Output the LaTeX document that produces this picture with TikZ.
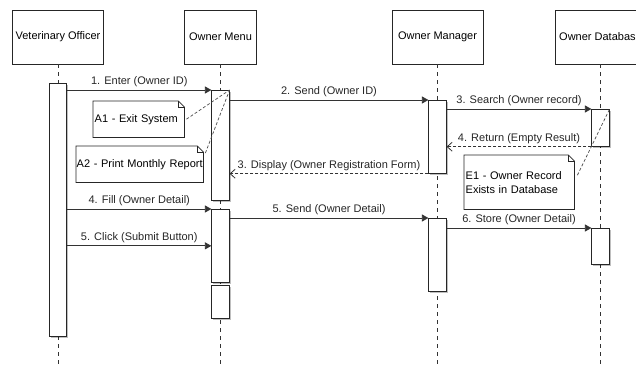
\documentclass[tikz,border=0pt]{standalone}
\usepackage{fontspec}
\setmainfont{Liberation Sans}
\usepackage{tikz}
\usetikzlibrary{arrows.meta,shadows}

\tikzset{
  head/.style={draw=black!85,line width=0.7pt,minimum width=91pt,minimum height=54pt,inner sep=0pt},
  bar/.style={draw=black!85,fill=white,line width=0.7pt,minimum width=17.5pt,inner sep=0pt,anchor=north,
    drop shadow={shadow xshift=1.5pt,shadow yshift=-1.5pt,opacity=0.25,fill=black}},
  life/.style={black!80,line width=0.7pt,dash pattern=on 4pt off 4pt},
  msg/.style={black!80,line width=0.8pt,-{Triangle[length=6.5pt,width=7pt]}},
  ret/.style={black!80,line width=0.8pt,dash pattern=on 3pt off 2pt,-{Straight Barb[length=5pt,width=9pt]}},
  lbl/.style={above,inner sep=3pt,text=black!85},
  note/.style={fill=white,inner xsep=1.5pt,inner ysep=0pt,anchor=north west,align=left},
  notefold/.style={black!85,line width=0.7pt},
  notelink/.style={black!70,line width=0.7pt,dash pattern=on 3pt off 2pt}
}

\begin{document}
\begin{tikzpicture}[x=1pt,y=-1pt,font=\fontsize{11}{14}\selectfont]

  \useasboundingbox (0,0) rectangle (636,364);
  \clip (0,0) rectangle (636,364);

  % Lifeline heads
  \node[head] (vo) at (58,37) {Veterinary Officer};
  \node[head,minimum width=72pt] (om) at (220.5,37) {Owner Menu};
  \node[head] (mg) at (437.5,37) {Owner Manager};
  \node[head,minimum width=90pt] (db) at (600.5,37) {Owner Database};

  % Lifelines
  \foreach \h in {vo,om,mg,db} {
    \coordinate (\h end) at (\h.south |- 0,366);
    \draw[life] (\h.south) -- (\h end);
  }

  % Activation bars
  \node[bar,minimum height=253pt] (vob) at (58,83) {};
  \node[bar,minimum height=110pt] (omb1) at (220.5,90) {};
  \node[bar,minimum height=73pt] (omb2) at (220.5,209) {};
  \node[bar,minimum height=33pt] (omb3) at (220.5,285) {};
  \node[bar,minimum height=73pt] (mgb1) at (437.5,100) {};
  \node[bar,minimum height=73pt] (mgb2) at (437.5,218) {};
  \node[bar,minimum height=37pt] (dbb1) at (600.5,109) {};
  \node[bar,minimum height=36pt] (dbb2) at (600.5,228) {};

  % Messages
  \draw[msg] (vob.east |- omb1.north west) -- node[lbl] {1. Enter (Owner ID)} (omb1.north west);
  \draw[msg] (omb1.east |- mgb1.north west) -- node[lbl] {2. Send (Owner ID)} (mgb1.north west);
  \draw[msg] (mgb1.east |- dbb1.north west) -- node[lbl] {3. Search (Owner record)} (dbb1.north west);
  \draw[ret] (dbb1.south west) -- node[lbl] {4. Return (Empty Result)} (mgb1.east |- dbb1.south west);
  \draw[ret] (mgb1.south west) -- node[lbl] {3. Display (Owner Registration Form)} (omb1.east |- mgb1.south west);
  \draw[msg] (vob.east |- omb2.north west) -- node[lbl] {4. Fill (Owner Detail)} (omb2.north west);
  \draw[msg] (omb2.east |- mgb2.north west) -- node[lbl] {5. Send (Owner Detail)} (mgb2.north west);
  \draw[msg] (mgb2.east |- dbb2.north west) -- node[lbl] {6. Store (Owner Detail)} (dbb2.north west);
  \draw[msg] (vob.east |- omb2.west) -- node[lbl] {5. Click (Submit Button)} (omb2.west);

  % Notes
  \node[note,text width=88pt,minimum height=36pt] (a1) at (93,101) {A1 - Exit System};
  \node[note,inner xsep=0.5pt,text width=126pt,minimum height=36pt] (a2) at (76,146) {A2 - Print Monthly Report};
  \node[note,text width=107pt,minimum height=54pt] (e1) at (464,155) {E1 - Owner Record\\Exists in Database};
  \foreach \n in {a1,a2,e1} {
    \draw[notefold] (\n.north west) -- ([xshift=-6pt]\n.north east) -- ([yshift=-6pt]\n.north east)
      -- (\n.south east) -- (\n.south west) -- cycle;
    \draw[notefold] ([xshift=-6pt]\n.north east) |- ([yshift=-6pt]\n.north east);
  }

  % Note links
  \draw[notelink] ([xshift=2pt]a1.east) -- (omb1.north east);
  \draw[notelink] ([xshift=2pt,yshift=-7pt]a2.north east) -- (omb1.north east);
  \draw[notelink] ([xshift=3pt,yshift=7pt]e1.east) -- (dbb1.north east);

\end{tikzpicture}
\end{document}
